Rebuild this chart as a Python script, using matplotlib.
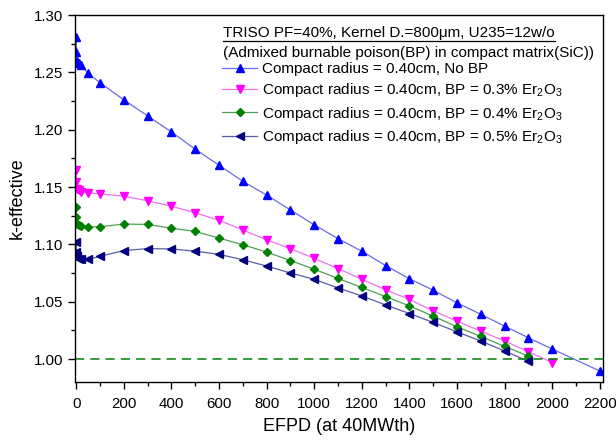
import matplotlib
matplotlib.use("Agg")
import matplotlib.pyplot as plt
from matplotlib.ticker import MultipleLocator, FormatStrFormatter
from matplotlib.lines import Line2D

plt.rcParams['font.family'] = ['Liberation Sans', 'DejaVu Sans']
plt.rcParams['mathtext.fontset'] = 'custom'
plt.rcParams['mathtext.rm'] = 'Liberation Sans'
plt.rcParams['mathtext.it'] = 'Liberation Sans'
plt.rcParams['mathtext.default'] = 'regular'

# Burnup steps (EFPD)
efpd_bp = [0, 1, 5, 10, 20, 50, 100, 200, 300, 400, 500, 600, 700, 800, 900,
           1000, 1100, 1200, 1300, 1400, 1500, 1600, 1700, 1800, 1900]
efpd_nobp = efpd_bp + [2000, 2200]
efpd_bp03 = efpd_bp + [2000]

k_nobp = [1.281, 1.268, 1.260, 1.2585, 1.2565, 1.249, 1.241, 1.226, 1.212, 1.198,
          1.183, 1.169, 1.155, 1.143, 1.130, 1.117, 1.105, 1.094, 1.0815, 1.070,
          1.060, 1.049, 1.039, 1.0287, 1.0185, 1.0087, 0.9896]
k_bp03 = [1.165, 1.1545, 1.1484, 1.1475, 1.146, 1.145, 1.144, 1.142, 1.138, 1.1333,
          1.1275, 1.121, 1.1125, 1.104, 1.0963, 1.0878, 1.0789, 1.0696, 1.0603, 1.052,
          1.042, 1.033, 1.0243, 1.0157, 1.0064, 0.997]
k_bp04 = [1.1327, 1.1235, 1.1174, 1.1165, 1.116, 1.1153, 1.1154, 1.1177, 1.1174, 1.1141,
          1.1113, 1.1055, 1.0997, 1.0933, 1.0859, 1.0783, 1.0703, 1.0624, 1.0545, 1.0463,
          1.0374, 1.0281, 1.0197, 1.011, 1.0026]
k_bp05 = [1.1022, 1.0935, 1.0895, 1.0875, 1.087, 1.087, 1.0896, 1.0946, 1.0963, 1.096,
          1.0941, 1.0913, 1.0866, 1.0811, 1.0751, 1.0695, 1.062, 1.055, 1.0472, 1.0397,
          1.0319, 1.0237, 1.0157, 1.007, 0.998]

labels = ["Compact radius = 0.40cm, No BP",
          "Compact radius = 0.40cm, BP = 0.3% Er$_2$O$_3$",
          "Compact radius = 0.40cm, BP = 0.4% Er$_2$O$_3$",
          "Compact radius = 0.40cm, BP = 0.5% Er$_2$O$_3$"]
critical_k = 1.00

W, H = 616, 440
fig = plt.figure(figsize=(W / 100, H / 100), dpi=100)
ax = fig.add_axes([75 / W, 1 - 382 / H, (603 - 75) / W, (382 - 15) / H])

series = [
    (efpd_nobp, k_nobp, '^', '#0000ff', '#6a6ae8', 5.6),
    (efpd_bp03, k_bp03, 'v', '#ff00ff', '#f070f0', 5.6),
    (efpd_bp, k_bp04, 'D', '#008000', '#50a050', 4.0),
    (efpd_bp, k_bp05, '<', '#000080', '#5a5aa8', 5.6),
]
for (x, y, m, mc, lc, ms), lab in zip(series, labels):
    ax.plot(x, y, color=lc, lw=0.9, marker=m, ms=ms, mfc=mc, mec=mc, label=lab)

ax.axhline(critical_k, color='#008000', lw=1.1, dashes=(6, 4))

ax.set_xlim(-5, 2213)
ax.set_ylim(0.98, 1.30)
ax.xaxis.set_major_locator(MultipleLocator(200))
ax.xaxis.set_minor_locator(MultipleLocator(100))
ax.yaxis.set_major_locator(MultipleLocator(0.05))
ax.yaxis.set_minor_locator(MultipleLocator(0.025))
ax.yaxis.set_major_formatter(FormatStrFormatter('%.2f'))
ax.tick_params(which='both', direction='out', top=False, right=False,
               labelsize=10.8, width=1.0)
ax.tick_params(axis='x', which='major', pad=6)
ax.tick_params(which='major', length=5)
ax.tick_params(which='minor', length=3)
for s in ax.spines.values():
    s.set_linewidth(1.0)

ax.set_xlabel("EFPD (at 40MWth)", fontsize=13, labelpad=5)
ax.set_ylabel("k-effective", fontsize=13, labelpad=6)

leg = ax.legend(loc='upper left', bbox_to_anchor=(222 / W, 1 - 62 / H),
                bbox_transform=fig.transFigure, frameon=False, fontsize=11,
                handlelength=2.3, handletextpad=0.35, labelspacing=0.35,
                borderaxespad=0, borderpad=0)

t1 = fig.text(223 / W, 1 - 33 / H, "TRISO PF=40%, Kernel D.=800\u03bcm, U235=12w/o",
              fontsize=11, va='center', ha='left')
fig.text(223 / W, 1 - 53 / H, "(Admixed burnable poison(BP) in compact matrix(SiC))",
         fontsize=11, va='center', ha='left')

fig.canvas.draw()
bb = t1.get_window_extent()
uy = bb.y0 - 1
fig.add_artist(Line2D([bb.x0 / W, bb.x1 / W], [uy / H, uy / H],
                      transform=fig.transFigure, color='black', lw=0.9))

fig.savefig("out.png", dpi=100)
